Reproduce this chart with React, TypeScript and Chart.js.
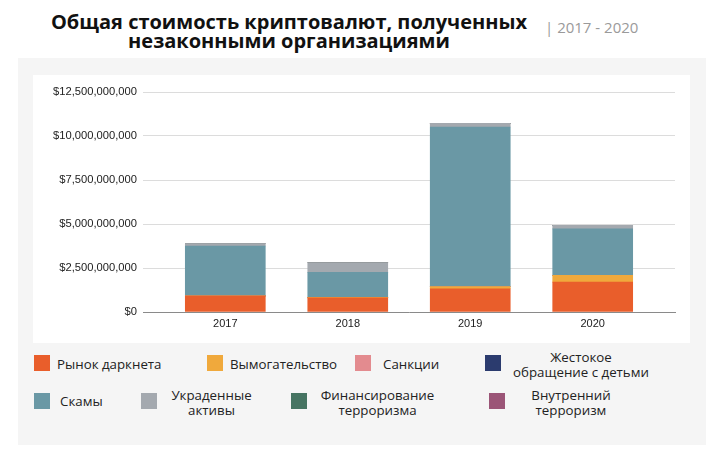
import React, { useEffect, useRef } from "react";
import { Chart, registerables } from "chart.js";

Chart.register(...registerables);

const years = ["2017", "2018", "2019", "2020"];

const seriesLabels = [
  "Рынок даркнета",
  "Вымогательство",
  "Санкции",
  "Жестокое\nобращение с детьми",
  "Скамы",
  "Украденные\nактивы",
  "Финансирование\nтерроризма",
  "Внутренний\nтерроризм",
];

const darknet = [910e6, 800e6, 1320e6, 1700e6];
const extortion = [10e6, 30e6, 130e6, 380e6];
const sanctions = [0, 0, 0, 0];
const childAbuse = [0, 0, 0, 0];
const scams = [2830e6, 1420e6, 9060e6, 2640e6];
const stolen = [140e6, 550e6, 210e6, 200e6];
const terrorFinancing = [0, 0, 0, 0];
const domesticTerror = [0, 0, 0, 0];

const yTicks = [0, 2.5e9, 5e9, 7.5e9, 10e9, 12.5e9];

const colors = [
  "#e95e2b",
  "#f0a93c",
  "#e38b8f",
  "#2b3b6e",
  "#6a98a5",
  "#a4a9af",
  "#467462",
  "#9b5577",
];

const seriesValues = [
  darknet,
  extortion,
  sanctions,
  childAbuse,
  scams,
  stolen,
  terrorFinancing,
  domesticTerror,
];

// legend layout (presentation only)
const legendLayout = [
  { sx: 34, sy: 355, tx: 57, ty: 364, center: false },
  { sx: 207, sy: 355, tx: 230, ty: 364, center: false },
  { sx: 355, sy: 355, tx: 383, ty: 364, center: false },
  { sx: 485, sy: 355, tx: 581, ty: 364.5, center: true },
  { sx: 34, sy: 393, tx: 60, ty: 401, center: false },
  { sx: 141, sy: 393, tx: 211.5, ty: 402.5, center: true },
  { sx: 291, sy: 393, tx: 377.5, ty: 402.5, center: true },
  { sx: 489, sy: 393, tx: 571, ty: 402.5, center: true },
];

export default function App() {
  const canvasRef = useRef<HTMLCanvasElement | null>(null);

  useEffect(() => {
    if (!canvasRef.current) return;
    const datasets = seriesLabels.map((label, k) => ({
      label: label.replace("\n", " "),
      data: years.map((_, i) => ({ x: i, y: seriesValues[k][i] })),
      backgroundColor: colors[k],
      borderWidth: 0,
      barThickness: 80,
    }));
    const chart = new Chart(canvasRef.current, {
      type: "bar",
      data: { datasets },
      options: {
        animation: false,
        responsive: false,
        devicePixelRatio: 1,
        layout: { padding: { top: 17, right: 15, left: 0, bottom: 0 } },
        plugins: {
          legend: { display: false },
          tooltip: { enabled: false },
        },
        scales: {
          x: {
            type: "linear",
            min: -0.672,
            max: 3.672,
            stacked: true,
            offset: false,
            grid: { display: false, offset: false, drawTicks: false },
            border: { display: true, color: "#8a8a8a", width: 1 },
            ticks: {
              stepSize: 1,
              autoSkip: false,
              maxRotation: 0,
              padding: 5,
              color: "#222",
              font: { family: "'Liberation Sans', Arial", size: 11 },
              callback: (v: any) => {
                const n = Number(v);
                return Number.isInteger(n) && n >= 0 && n < years.length ? years[n] : "";
              },
            },
            afterFit: (s: any) => {
              s.height = 31;
            },
          },
          y: {
            stacked: true,
            min: yTicks[0],
            max: yTicks[yTicks.length - 1],
            ticks: {
              stepSize: yTicks[1] - yTicks[0],
              padding: 6,
              color: "#222",
              font: { family: "'Liberation Sans', Arial", size: 11.2 },
              callback: (v: any) => "$" + Number(v).toLocaleString("en-US"),
            },
            grid: { color: "#dcdcdc", drawTicks: false, lineWidth: 1 },
            border: { display: false },
            afterFit: (s: any) => {
              s.width = 110;
            },
          },
        },
      },
    });
    return () => chart.destroy();
  }, []);

  return (
    <div
      style={{
        position: "fixed",
        left: 0,
        top: 0,
        width: 718,
        height: 460,
        background: "#ffffff",
        overflow: "hidden",
      }}
    >
      <div
        style={{
          position: "absolute",
          left: 0,
          top: 12,
          width: 578,
          textAlign: "center",
          fontFamily: "'Open Sans', sans-serif",
          fontWeight: 700,
          fontSize: 20,
          lineHeight: "19px",
          color: "#111",
          whiteSpace: "nowrap",
        }}
      >
        Общая стоимость криптовалют, полученных
        <br />
        незаконными организациями
      </div>
      <div
        style={{
          position: "absolute",
          left: 545,
          top: 17,
          fontFamily: "'Open Sans', sans-serif",
          fontSize: 15,
          lineHeight: "20px",
          color: "#9a9a9a",
          whiteSpace: "nowrap",
        }}
      >
        | 2017 - 2020
      </div>
      <div
        style={{
          position: "absolute",
          left: 18,
          top: 58,
          width: 688,
          height: 387,
          background: "#f5f5f5",
        }}
      />
      <div
        style={{
          position: "absolute",
          left: 33,
          top: 75,
          width: 657,
          height: 268,
          background: "#ffffff",
        }}
      >
        <canvas ref={canvasRef} width={657} height={268} style={{ display: "block" }} />
      </div>
      {seriesLabels.map((label, k) => {
        const L = legendLayout[k];
        const lines = label.split("\n").length;
        const top = L.ty - (lines * 15) / 2;
        return (
          <React.Fragment key={k}>
            <div
              style={{
                position: "absolute",
                left: L.sx,
                top: L.sy,
                width: 16,
                height: 16,
                background: colors[k],
              }}
            />
            <div
              style={{
                position: "absolute",
                left: L.center ? L.tx - 100 : L.tx,
                width: L.center ? 200 : undefined,
                top,
                textAlign: L.center ? "center" : "left",
                whiteSpace: "pre",
                fontFamily: "'Open Sans', sans-serif",
                fontSize: 13.3,
                lineHeight: "15px",
                color: "#222",
              }}
            >
              {label}
            </div>
          </React.Fragment>
        );
      })}
    </div>
  );
}
